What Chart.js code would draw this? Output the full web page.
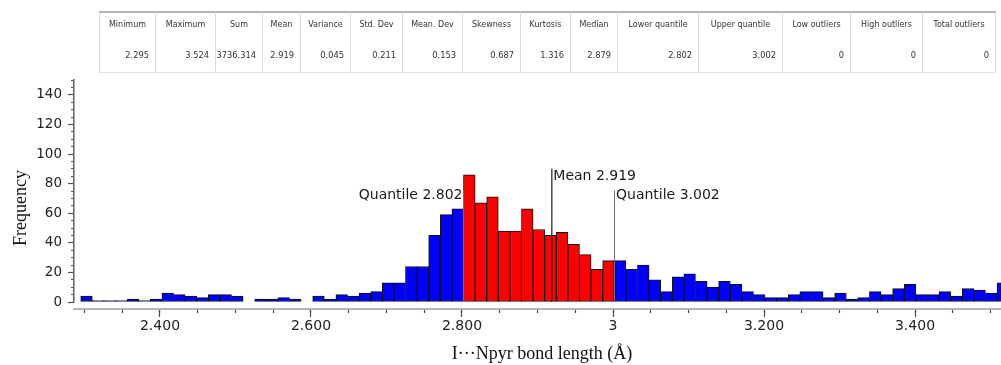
<!DOCTYPE html>
<html>
<head>
<meta charset="utf-8">
<script src="https://cdn.jsdelivr.net/npm/chart.js@4.4.1/dist/chart.umd.min.js"></script>
<style>
html,body{margin:0;padding:0;background:#fff;width:1001px;height:365px;overflow:hidden;}
#wrap{position:relative;width:1001px;height:365px;}
#chart{position:absolute;left:0;top:0;}
#stats{position:absolute;left:0;top:0;width:1001px;height:80px;font-family:"DejaVu Sans",Verdana,sans-serif;color:#333;}
.col{position:absolute;top:12px;height:61px;box-sizing:border-box;border-left:1px solid #d9d9d9;}
.hd{position:absolute;left:0;right:0;top:7px;text-align:center;font-size:8px;line-height:12px;white-space:nowrap;}
.vl{position:absolute;left:0;right:6px;top:37px;text-align:right;font-size:8.3px;line-height:12px;white-space:nowrap;}
</style>
</head>
<body>
<div id="wrap">
<canvas id="chart" width="1001" height="365"></canvas>
<div id="stats"></div>
</div>
<script>
// ---- data ----
const statNames = ["Minimum","Maximum","Sum","Mean","Variance","Std. Dev","Mean. Dev","Skewness","Kurtosis","Median","Lower quantile","Upper quantile","Low outliers","High outliers","Total outliers"];
const statValues = ["2.295","3.524","3736.314","2.919","0.045","0.211","0.153","0.687","1.316","2.879","2.802","3.002","0","0","0"];

const binStart = 2.295;
const binEnd = 3.524;
const frequencies = [
  4,1,1,1,2,1,2,6,5,4,3,5,5,4,
  0,2,2,3,2,0,4,2,5,
  4,6,7,13,13,24,24,45,59,63,
  86,67,71,48,48,63,49,45,47,39,32,22,28,
  28,22,25,15,7,17,19,14,10,14,12,7,5,3,3,5,7,7,3,6,2,3,7,5,9,12,5,5,7,4,9,8,6,13
];
const meanValue = 2.919;
const lowerQuantile = 2.802;
const upperQuantile = 3.002;

const xTickValues = [2.4, 2.6, 2.8, 3.0, 3.2, 3.4];
const xTickLabels = ["2.400","2.600","2.800","3","3.200","3.400"];
const yTickValues = [0, 20, 40, 60, 80, 100, 120, 140];
const yTickLabels = ["0","20","40","60","80","100","120","140"];

// ---- layout (positions/styles) ----
const colEdges = [99,155,215,262,300,350,402,462,520,570,617,698,782,850,922,995];
const xMin = 2.2861, xMax = 3.5139, yMin = 0, yMax = 150;
const xAxisOffsetValue = -4.72;
const meanLineTop = 90, quantileLineTop = 75.5;

// ---- stats table ----
const stats = document.getElementById('stats');
const topLine = document.createElement('div');
topLine.style.cssText = 'position:absolute;left:99px;width:897px;top:11px;height:0;border-top:2px solid #b3b3b3;';
stats.appendChild(topLine);
const botLine = document.createElement('div');
botLine.style.cssText = 'position:absolute;left:99px;width:897px;top:72px;height:0;border-top:1px solid #e2e2e2;';
stats.appendChild(botLine);
statNames.forEach((name, j) => {
  const c = document.createElement('div');
  c.className = 'col';
  c.style.left = colEdges[j] + 'px';
  c.style.width = (colEdges[j+1] - colEdges[j]) + 'px';
  const h = document.createElement('div'); h.className = 'hd'; h.textContent = name;
  const v = document.createElement('div'); v.className = 'vl'; v.textContent = statValues[j];
  c.appendChild(h); c.appendChild(v);
  stats.appendChild(c);
});
const endCol = document.createElement('div');
endCol.style.cssText = 'position:absolute;top:12px;height:61px;left:995px;border-left:1px solid #d9d9d9;';
stats.appendChild(endCol);

// ---- histogram ----
const binWidth = (binEnd - binStart) / frequencies.length;
const barPoints = frequencies.map((f, i) => ({x: binStart + (i + 0.5) * binWidth, y: f === 0 ? null : f}));
const barColors = barPoints.map(p => (p.x > lowerQuantile && p.x < upperQuantile) ? '#ff0000' : '#0000ff');

const labelFont = '14px "DejaVu Sans", Verdana, sans-serif';
const textPlugin = {
  id: 'texts',
  afterDraw(chart) {
    const {ctx, scales: {x, y}} = chart;
    ctx.save();
    ctx.fillStyle = '#1a1a1a';
    ctx.font = labelFont;
    ctx.textBaseline = 'alphabetic';
    ctx.textAlign = 'left';
    ctx.fillText('Mean ' + meanValue.toFixed(3), x.getPixelForValue(meanValue) + 1.5, y.getPixelForValue(meanLineTop) + 11.5);
    ctx.fillText('Quantile ' + upperQuantile.toFixed(3), x.getPixelForValue(upperQuantile) + 1.5, y.getPixelForValue(quantileLineTop) + 9);
    ctx.textAlign = 'right';
    ctx.fillText('Quantile ' + lowerQuantile.toFixed(3), x.getPixelForValue(lowerQuantile) - 1, y.getPixelForValue(quantileLineTop) + 9);
    // axis titles
    ctx.font = '18px "Liberation Serif", "Times New Roman", serif';
    ctx.fillStyle = '#111';
    ctx.textAlign = 'center';
    ctx.fillText('I\u00b7\u00b7\u00b7Npyr bond length (\u00c5)', 542, 359);
    ctx.translate(26, 208);
    ctx.rotate(-Math.PI / 2);
    ctx.fillText('Frequency', 0, 0);
    ctx.restore();
  }
};

const tickFont = {family: '"DejaVu Sans", Verdana, sans-serif', size: 14};

new Chart(document.getElementById('chart'), {
  type: 'bar',
  data: {
    datasets: [
      {type: 'line', data: [{x: meanValue, y: 0}, {x: meanValue, y: meanLineTop}], borderColor: '#1e1e1e', borderWidth: 1.2, pointRadius: 0, order: 0},
      {type: 'line', data: [{x: upperQuantile, y: 0}, {x: upperQuantile, y: quantileLineTop}], borderColor: '#6e6e6e', borderWidth: 1, pointRadius: 0, order: 0},
      {type: 'line', data: [{x: lowerQuantile, y: 0}, {x: lowerQuantile, y: quantileLineTop}], borderColor: '#6e6e6e', borderWidth: 1, pointRadius: 0, order: 0},
      {type: 'bar', data: barPoints, backgroundColor: barColors, borderColor: '#111', borderWidth: 1, borderSkipped: false, barPercentage: 1, categoryPercentage: 1, order: 1}
    ]
  },
  options: {
    responsive: false,
    animation: false,
    devicePixelRatio: 1,
    layout: {padding: {top: 80, right: 0, bottom: 63, left: 0}},
    plugins: {legend: {display: false}, tooltip: {enabled: false}},
    scales: {
      x: {
        type: 'linear', min: xMin, max: xMax, offset: false,
        position: {y: xAxisOffsetValue},
        afterFit(s) { s.height = 0; },
        afterBuildTicks(s) { s.ticks = xTickValues.map(v => ({value: v})); },
        grid: {offset: false, display: true, drawOnChartArea: false, drawTicks: true, tickLength: 7, tickColor: '#4a4a4a', tickWidth: 1.2},
        border: {display: true, color: '#b4b4b4', width: 2},
        ticks: {padding: 2, color: '#222', font: tickFont, maxRotation: 0, autoSkip: false,
          callback: (v, i) => xTickLabels[i]}
      },
      xMinor: {
        type: 'linear', min: xMin, max: xMax, offset: false,
        position: {y: xAxisOffsetValue},
        afterFit(s) { s.height = 0; },
        afterBuildTicks(s) { const t = []; for (let k = 0; k <= 24; k++) t.push({value: 2.3 + k * 0.05}); s.ticks = t; },
        grid: {offset: false, display: true, drawOnChartArea: false, drawTicks: true, tickLength: 4, tickColor: '#4a4a4a', tickWidth: 1.2},
        border: {display: false},
        ticks: {display: false}
      },
      y: {
        type: 'linear', position: 'left', min: yMin, max: yMax,
        afterFit(s) { s.width = 74; },
        afterBuildTicks(s) { s.ticks = yTickValues.map(v => ({value: v})); },
        grid: {display: true, drawOnChartArea: false, drawTicks: true, tickLength: 6, tickColor: '#555', tickWidth: 1.2},
        border: {display: true, color: '#606060', width: 1.5},
        ticks: {padding: 6, color: '#222', font: {family: '"DejaVu Sans", Verdana, sans-serif', size: 13.5},
          callback: (v, i) => yTickLabels[i]}
      },
      yMinor: {
        type: 'linear', min: yMin, max: yMax,
        position: {x: xMin},
        afterFit(s) { s.width = 0; },
        afterBuildTicks(s) { const t = []; for (let v = 0; v <= 150; v += 5) t.push({value: v}); s.ticks = t; },
        grid: {display: true, drawOnChartArea: false, drawTicks: true, tickLength: 3, tickColor: '#555', tickWidth: 1},
        border: {display: false},
        ticks: {display: false}
      }
    }
  },
  plugins: [textPlugin]
});
</script>
</body>
</html>
